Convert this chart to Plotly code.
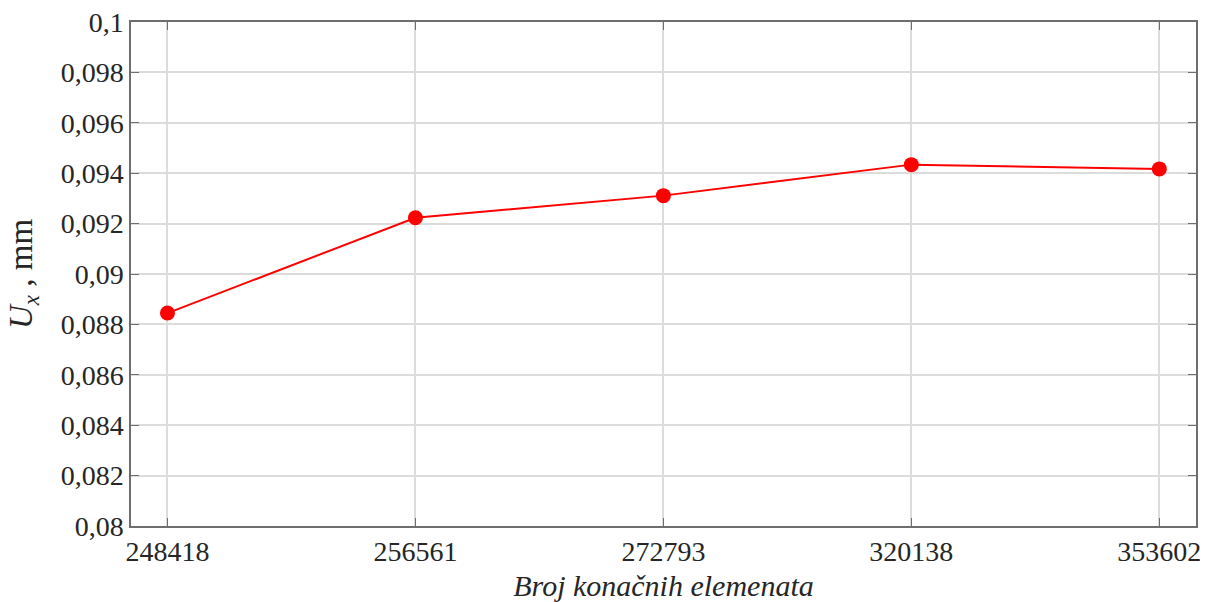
import plotly.graph_objects as go

# number of finite elements vs displacement
elements = ["248418", "256561", "272793", "320138", "353602"]
ux_mm = [0.08845, 0.09223, 0.09311, 0.09434, 0.09417]

y_ticks = [0.080, 0.082, 0.084, 0.086, 0.088, 0.090, 0.092, 0.094, 0.096, 0.098, 0.100]
y_labels = [("%g" % v).replace(".", ",") for v in y_ticks]

font = "Liberation Serif"

fig = go.Figure()
fig.add_trace(go.Scatter(
    x=list(range(len(elements))),
    y=ux_mm,
    mode="lines+markers",
    line=dict(color="#ff0000", width=2),
    marker=dict(color="#ff0000", size=15),
    showlegend=False,
))

axis_common = dict(
    showline=True, linecolor="#6e6e6e", linewidth=1.5, mirror="ticks",
    ticks="inside", ticklen=8, tickcolor="#6e6e6e", tickwidth=1,
    showgrid=True, gridcolor="#dcdcdc", gridwidth=1.5, zeroline=False,
    tickfont=dict(family=font, size=28, color="#262626"),
    automargin=False,
)

fig.update_xaxes(
    tickvals=list(range(len(elements))), ticktext=elements,
    range=[-0.147, len(elements) - 1 + 0.148],
    title=dict(text="<i>Broj konačnih elemenata</i>",
               font=dict(family=font, size=30, color="#262626")),
    **axis_common,
)
fig.update_yaxes(
    tickvals=y_ticks, ticktext=y_labels, range=[0.08, 0.1],
    title=dict(text="<i>U<sub>x</sub></i> , mm", standoff=18,
               font=dict(family=font, size=33, color="#262626")),
    **axis_common,
)

fig.update_layout(
    width=1206, height=602,
    margin=dict(l=131, r=10, t=22, b=76),
    plot_bgcolor="white", paper_bgcolor="white",
    font=dict(family=font),
)

# drop the default 8px body margin so the figure sits at the window corner
fig.write_html("out.html", config={"displayModeBar": False},
               post_script="document.body.style.margin = '0';")
